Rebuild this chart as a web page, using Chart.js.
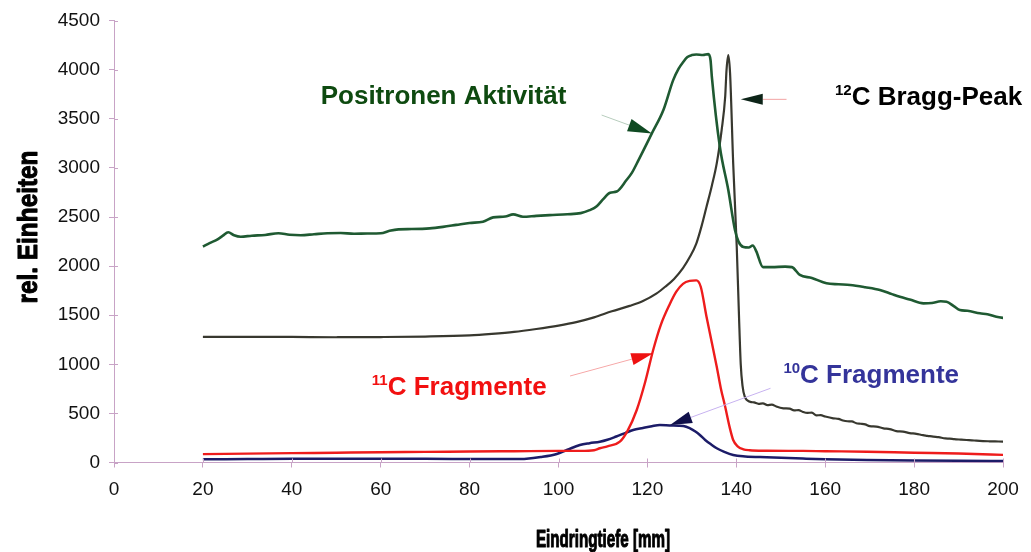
<!DOCTYPE html>
<html>
<head>
<meta charset="utf-8">
<script src="https://cdn.jsdelivr.net/npm/chart.js@4/dist/chart.umd.min.js"></script>
<style>
  html, body { margin: 0; padding: 0; background: #ffffff; }
  #wrap { width: 1031px; height: 552px; }
</style>
</head>
<body>
<div id="wrap"><canvas id="c" width="1031" height="552"></canvas></div>
<script>
// Penetration depth (mm) and relative units per curve
const positronDepth = [20, 21.5, 23, 24.5, 25.7, 27, 28.5, 31, 34, 37, 39.5, 42, 45, 48, 51, 54, 57, 60, 62, 64, 67, 71, 74, 77, 80, 83, 85.3, 88, 89.8, 92, 95, 98, 102, 105, 107, 108.6, 110, 111.6, 113.1, 115.3, 116.5, 118, 121, 123.6, 125.8, 127, 128.1, 129, 130, 131, 132.5, 133.7, 134.2, 134.5, 136.3, 138.2, 139.7, 140.5, 141.6, 142.8, 143.7, 144.5, 146, 148, 151, 152.5, 154.3, 157, 160.3, 163, 165.6, 169, 172.3, 175, 176.8, 179, 182.1, 184, 186, 187.3, 189, 190.3, 192, 194.8, 196.5, 198.5, 200.8];
const positronActivity = [2200, 2235, 2265, 2310, 2345, 2315, 2300, 2310, 2318, 2335, 2320, 2315, 2325, 2335, 2338, 2330, 2333, 2335, 2360, 2375, 2378, 2385, 2400, 2420, 2440, 2452, 2497, 2505, 2527, 2503, 2512, 2520, 2528, 2540, 2570, 2610, 2680, 2747, 2760, 2877, 2950, 3080, 3352, 3590, 3895, 4010, 4082, 4130, 4150, 4155, 4150, 4160, 4100, 3929, 3216, 2775, 2368, 2250, 2195, 2190, 2210, 2150, 1990, 1990, 1995, 1990, 1910, 1880, 1825, 1815, 1808, 1785, 1757, 1715, 1688, 1660, 1621, 1625, 1642, 1638, 1590, 1553, 1545, 1520, 1510, 1485, 1468];

const braggDepth = [20, 30, 40, 50, 60, 70, 80, 85, 90, 95, 100, 104, 108, 112, 116, 119, 122, 124, 126, 128, 129.5, 131, 132.2, 133.3, 134.5, 135.6, 136.7, 137.5, 137.8, 138.2, 138.6, 139.3, 140.1, 140.6, 141, 141.4, 141.9, 143.1, 144, 145, 146, 147, 148, 149, 150.6, 152, 153, 154, 155, 156, 157, 158, 159, 160, 161.8, 163, 164, 165, 166, 167, 168, 169, 170, 171.5, 173.1, 174.5, 176, 177.5, 179, 180.5, 182, 183, 184.3, 185.5, 187, 188, 189, 190.5, 191.8, 193, 194, 195.5, 197, 199, 200.8];
const braggDose = [1280, 1280, 1279, 1276, 1278, 1283, 1295, 1310, 1330, 1360, 1395, 1430, 1478, 1540, 1595, 1645, 1720, 1790, 1870, 1980, 2090, 2230, 2410, 2605, 2820, 3047, 3386, 3725, 3997, 4150, 3963, 3047, 2198, 1500, 1000, 780, 670, 619, 612, 598, 603, 585, 590, 570, 552, 548, 530, 534, 515, 505, 508, 480, 482, 468, 450, 445, 428, 420, 418, 400, 395, 388, 370, 366, 348, 340, 320, 315, 300, 292, 278, 272, 263, 258, 245, 243, 238, 233, 229, 226, 222, 218, 216, 214, 212];

const c11Depth = [20, 30, 40, 50, 60, 70, 80, 90, 100, 105, 108, 109.3, 111, 113.8, 115.5, 117.6, 119.5, 121.3, 123, 125, 126.5, 128, 129.5, 131, 132, 133.3, 134.5, 135.6, 136.5, 137.5, 138.5, 139.3, 140.3, 141.6, 143, 146.8, 155, 160, 169.4, 180, 190, 200.8];
const c11Counts = [85, 90, 95, 100, 105, 108, 112, 115, 118, 118, 125, 145, 165, 212, 320, 535, 820, 1146, 1400, 1610, 1740, 1820, 1850, 1855, 1790, 1485, 1220, 976, 760, 568, 360, 229, 165, 134, 125, 120, 118, 115, 110, 100, 92, 76];

const c10Depth = [20, 30, 40, 50, 60, 70, 80, 90, 92.8, 96, 99.6, 102, 104.8, 107, 109.3, 111, 113, 115, 116.8, 119, 121, 122.8, 125, 127, 128.1, 129.5, 130.8, 131.8, 133, 134.3, 135.6, 137.3, 139.3, 142, 146.8, 155, 160, 169.4, 180, 190, 200.8];
const c10Counts = [33, 35, 37, 37, 38, 38, 36, 35, 38, 55, 87, 130, 178, 197, 212, 232, 265, 300, 331, 352, 370, 382, 378, 375, 372, 350, 315, 280, 230, 185, 145, 108, 76, 62, 53, 40, 33, 25, 20, 17, 15];

const depthTicks = [0, 20, 40, 60, 80, 100, 120, 140, 160, 180, 200];
const unitTicks = [0, 500, 1000, 1500, 2000, 2500, 3000, 3500, 4000, 4500];

const AXIS_COLOR = '#c8a3c6';
const SANS = '"Liberation Sans", Arial, Helvetica, sans-serif';

const toPoints = (xs, ys) => xs.map((d, i) => ({ x: d, y: ys[i] }));

function drawArrow(ctx, tail, tip, shaftColor, headColor, headLen, headHalf) {
  const dx = tip[0] - tail[0], dy = tip[1] - tail[1];
  const len = Math.hypot(dx, dy);
  const ux = dx / len, uy = dy / len;
  const bx = tip[0] - ux * headLen, by = tip[1] - uy * headLen;
  ctx.save();
  ctx.strokeStyle = shaftColor;
  ctx.lineWidth = 1;
  ctx.beginPath();
  ctx.moveTo(tail[0], tail[1]);
  ctx.lineTo(bx, by);
  ctx.stroke();
  ctx.fillStyle = headColor;
  ctx.beginPath();
  ctx.moveTo(tip[0], tip[1]);
  ctx.lineTo(bx - uy * headHalf, by + ux * headHalf);
  ctx.lineTo(bx + uy * headHalf, by - ux * headHalf);
  ctx.closePath();
  ctx.fill();
  ctx.restore();
}

function supLabel(ctx, sup, main, x, yBase, color) {
  ctx.save();
  ctx.fillStyle = color;
  ctx.textAlign = 'left';
  ctx.textBaseline = 'alphabetic';
  let w = 0;
  if (sup) {
    ctx.font = 'bold 15px ' + SANS;
    ctx.fillText(sup, x, yBase - 10);
    w = ctx.measureText(sup).width;
  }
  ctx.font = 'bold 26px ' + SANS;
  ctx.fillText(main, x + w, yBase);
  ctx.restore();
}

// heavy, horizontally condensed title text squeezed to a given width
function fittedText(ctx, text, cx, baseY, width, size, rotate) {
  ctx.save();
  ctx.fillStyle = '#000000';
  ctx.strokeStyle = '#000000';
  ctx.lineWidth = 1.1;
  ctx.lineJoin = 'round';
  ctx.font = 'bold ' + size + 'px ' + SANS;
  ctx.textAlign = 'center';
  ctx.textBaseline = 'alphabetic';
  const natural = ctx.measureText(text).width;
  ctx.translate(cx, baseY);
  if (rotate) ctx.rotate(-Math.PI / 2);
  ctx.scale(width / natural, 1);
  ctx.fillText(text, 0, 0);
  ctx.strokeText(text, 0, 0);
  ctx.restore();
}

const decorations = {
  id: 'decorations',
  afterDatasetsDraw(chart) {
    const { ctx, scales: { x, y } } = chart;
    const P = (mm, v) => [x.getPixelForValue(mm), y.getPixelForValue(v)];

    // short inner halves of the tick marks
    ctx.save();
    ctx.strokeStyle = AXIS_COLOR;
    ctx.lineWidth = 1;
    ctx.beginPath();
    depthTicks.forEach(t => {
      const px = Math.round(x.getPixelForValue(t)) + 0.5;
      ctx.moveTo(px, y.bottom);
      ctx.lineTo(px, y.bottom - 4);
    });
    unitTicks.forEach(t => {
      const py = Math.round(y.getPixelForValue(t)) + 0.5;
      ctx.moveTo(x.left, py);
      ctx.lineTo(x.left + 4, py);
    });
    ctx.stroke();
    ctx.restore();

    // pointer arrows
    drawArrow(ctx, P(109.7, 3539), P(121.0, 3352), '#b7cdbd', '#0f4a22', 24, 6.5);
    drawArrow(ctx, P(151.3, 3699), P(141.0, 3699), '#f2a3a3', '#0d2418', 22, 5.5);
    drawArrow(ctx, P(102.6, 881), P(121.3, 1112), '#f6a8a8', '#ee1111', 22, 6);
    drawArrow(ctx, P(147.7, 756), P(125.1, 382), '#c7b2f0', '#10104a', 22, 6);

    // curve labels
    const g = P(46.5, 3650);
    supLabel(ctx, '', 'Positronen Aktivität', g[0], g[1], '#0e4a10');
    const b = P(162.2, 3640);
    supLabel(ctx, '12', 'C Bragg-Peak', b[0], b[1], '#000000');
    const r = P(58.0, 687);
    supLabel(ctx, '11', 'C Fragmente', r[0], r[1], '#f21010');
    const n = P(150.6, 806);
    supLabel(ctx, '10', 'C Fragmente', n[0], n[1], '#34349a');

    // axis titles
    fittedText(ctx, 'rel. Einheiten', 37, 227, 153, 28, true);
    fittedText(ctx, 'Eindringtiefe [mm]', 603, 547, 134, 24, false);
  }
};

const lineStyle = (color, width) => ({
  borderColor: color,
  borderWidth: width,
  pointRadius: 0,
  fill: false,
  cubicInterpolationMode: 'monotone'
});

const plainTick = v => String(v);

new Chart(document.getElementById('c'), {
  type: 'line',
  data: {
    datasets: [
      Object.assign({ label: 'Positronen Aktivität', data: toPoints(positronDepth, positronActivity) }, lineStyle('#1f5a32', 2.6)),
      Object.assign({ label: '12C Bragg-Peak', data: toPoints(braggDepth, braggDose) }, lineStyle('#38382f', 2.2)),
      Object.assign({ label: '11C Fragmente', data: toPoints(c11Depth, c11Counts) }, lineStyle('#ee1c1c', 2.4)),
      Object.assign({ label: '10C Fragmente', data: toPoints(c10Depth, c10Counts) }, lineStyle('#1c1c68', 2.5))
    ]
  },
  options: {
    responsive: false,
    devicePixelRatio: 1,
    animation: false,
    layout: { padding: { left: 0, right: 28, top: 20.7, bottom: 0 } },
    plugins: { legend: { display: false }, tooltip: { enabled: false } },
    scales: {
      x: {
        type: 'linear',
        min: 0,
        max: 200,
        afterBuildTicks: s => { s.ticks = depthTicks.map(v => ({ value: v })); },
        afterFit: s => { s.height = 89.5; },
        grid: { display: true, drawOnChartArea: false, drawTicks: true, tickLength: 5, color: AXIS_COLOR, lineWidth: 1 },
        border: { display: true, color: AXIS_COLOR, width: 1 },
        ticks: { color: '#111111', font: { family: SANS, size: 19 }, padding: 11, maxRotation: 0, autoSkip: false, callback: plainTick }
      },
      y: {
        type: 'linear',
        min: 0,
        max: 4500,
        afterBuildTicks: s => { s.ticks = unitTicks.map(v => ({ value: v })); },
        afterFit: s => { s.width = 114; },
        grid: { display: true, drawOnChartArea: false, drawTicks: true, tickLength: 5, color: AXIS_COLOR, lineWidth: 1 },
        border: { display: true, color: AXIS_COLOR, width: 1 },
        ticks: { color: '#111111', font: { family: SANS, size: 19 }, padding: 9, autoSkip: false, callback: plainTick }
      }
    }
  },
  plugins: [decorations]
});
</script>
</body>
</html>
